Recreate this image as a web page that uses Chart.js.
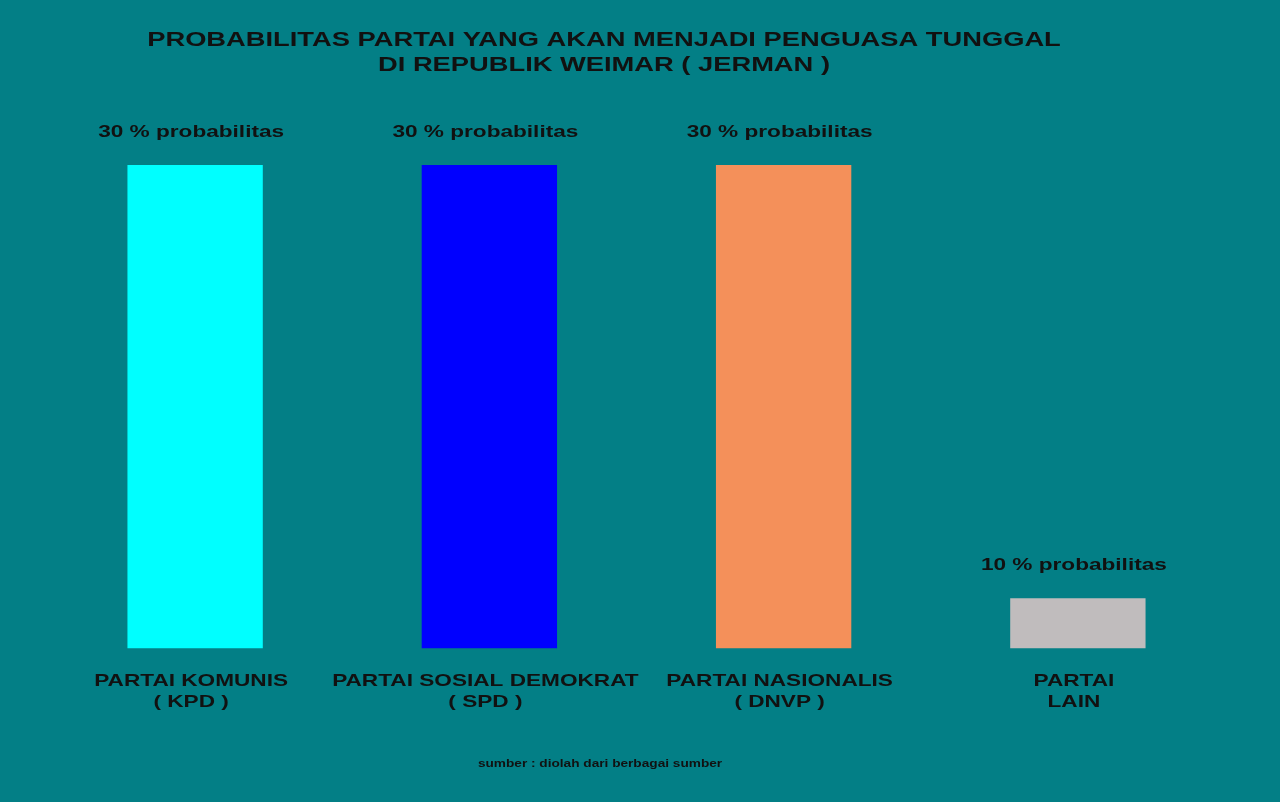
<!DOCTYPE html>
<html>
<head>
<meta charset="utf-8">
<script src="https://cdn.jsdelivr.net/npm/chart.js@4"></script>
<style>
  body { margin: 0; background: #037f86; }
  #wrap { width: 1280px; height: 802px; position: relative; }
</style>
</head>
<body>
<div id="wrap"><canvas id="partyChart"></canvas></div>
<script>
// data
const parties = [
  ["PARTAI KOMUNIS", "( KPD )"],
  ["PARTAI SOSIAL DEMOKRAT", "( SPD )"],
  ["PARTAI NASIONALIS", "( DNVP )"],
  ["PARTAI", "LAIN"]
];
const probability = [30, 30, 30, 10];
const barColors = ["#00ffff", "#0000ff", "#f4905a", "#c0bcbd"];
const titleLines = [
  "PROBABILITAS PARTAI YANG AKAN MENJADI PENGUASA TUNGGAL",
  "DI REPUBLIK WEIMAR ( JERMAN )"
];
const sourceText = "sumber : diolah dari berbagai sumber";

const FONT = "'Liberation Sans', Arial, sans-serif";
const INK = "#111111";

// the original lettering is stretched sideways, so draw it wider
function wideText(ctx, text, x, y, sx) {
  ctx.save();
  ctx.translate(x, y);
  ctx.scale(sx, 1);
  ctx.fillText(text, 0, 0);
  ctx.restore();
}

// draws title, value labels, category labels and source line
const textPlugin = {
  id: "texts",
  afterDatasetsDraw(chart) {
    const ctx = chart.ctx;
    const xScale = chart.scales.x;
    const area = chart.chartArea;
    ctx.save();
    ctx.fillStyle = INK;
    ctx.textAlign = "center";
    ctx.textBaseline = "middle";

    // title
    ctx.font = "bold 21px " + FONT;
    wideText(ctx, titleLines[0], 604, 40, 1.3);
    wideText(ctx, titleLines[1], 604, 65, 1.3);

    // value labels over bars
    ctx.font = "bold 17px " + FONT;
    chart.getDatasetMeta(0).data.forEach((bar, i) => {
      wideText(ctx, probability[i] + " % probabilitas", bar.x - 4, bar.y - 33, 1.33);
    });

    // category labels
    parties.forEach((lines, i) => {
      const x = xScale.getPixelForTick(i);
      lines.forEach((line, j) => {
        wideText(ctx, line, x - 4, area.bottom + 33 + j * 21, 1.33);
      });
    });

    // source
    ctx.font = "bold 10.5px " + FONT;
    wideText(ctx, sourceText, 600, 764, 1.3);
    ctx.restore();
  }
};

const ctx = document.getElementById("partyChart").getContext("2d");
new Chart(ctx, {
  type: "bar",
  data: {
    labels: parties,
    datasets: [
      {
        label: "Probabilitas",
        data: probability,
        backgroundColor: barColors,
        borderWidth: 0,
        barPercentage: 0.46,
        categoryPercentage: 1
      }
    ]
  },
  options: {
    responsive: true,
    maintainAspectRatio: false,
    animation: false,
    layout: { padding: { top: 165, left: 48, right: 55, bottom: 65 } },
    plugins: {
      legend: { display: false },
      tooltip: { enabled: false }
    },
    scales: {
      x: {
        grid: { display: false, drawTicks: false },
        border: { display: false },
        ticks: {
          color: "rgba(0,0,0,0)", // space kept, text drawn by plugin
          padding: 24,
          maxRotation: 0,
          autoSkip: false,
          font: { family: "'DejaVu Sans'", size: 17, weight: "bold", lineHeight: 1.2 }
        }
      },
      y: {
        display: false,
        min: 7.7,
        max: 30
      }
    }
  },
  plugins: [textPlugin]
});
</script>
</body>
</html>
